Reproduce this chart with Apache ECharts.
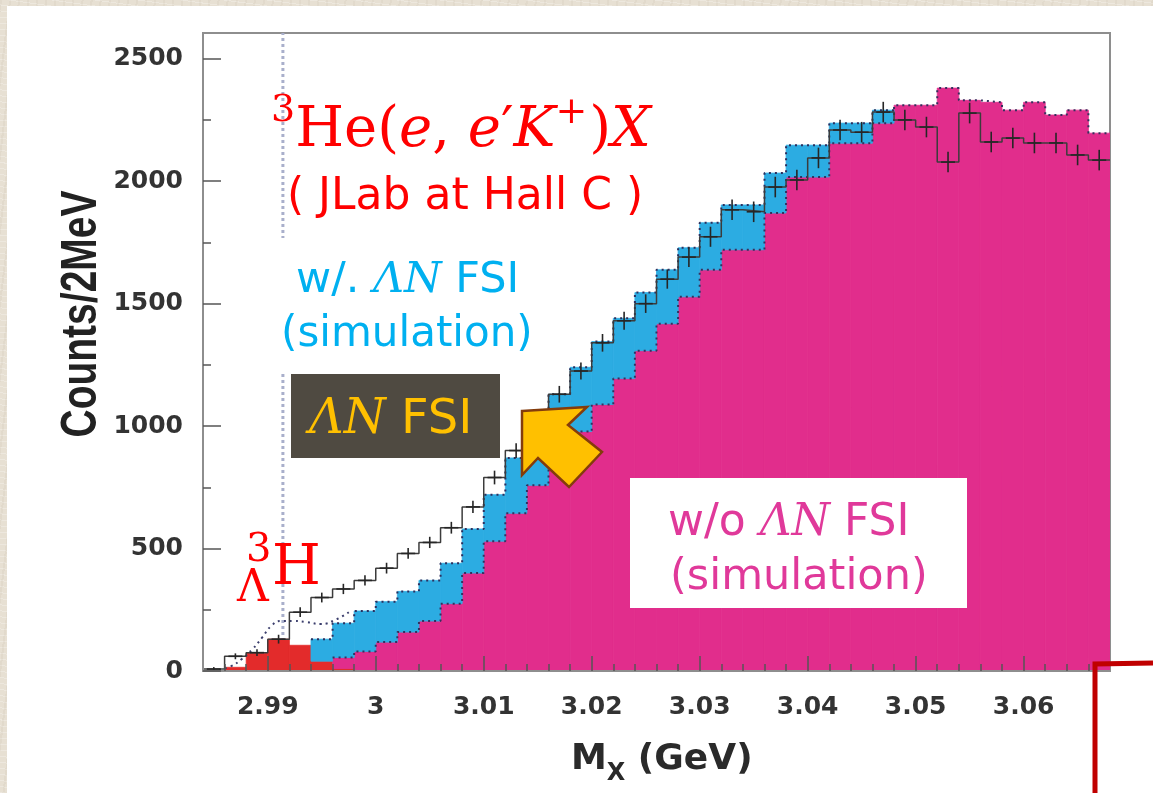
<!DOCTYPE html>
<html>
<head>
<meta charset="utf-8">
<title>3He(e,e'K+)X missing mass</title>
<script src="https://cdn.jsdelivr.net/npm/echarts@6.0.0/dist/echarts.min.js"></script>
<style>
  html, body { margin:0; padding:0; width:1153px; height:793px; overflow:hidden; }
  body {
    background-color:#e7e0d3;
    background-image:
      repeating-linear-gradient(97deg, rgba(120,100,70,0.05) 0 2px, transparent 2px 9px),
      repeating-linear-gradient(8deg, rgba(255,255,255,0.25) 0 1px, transparent 1px 6px);
  }
  #sheet { position:absolute; left:7px; top:6px; width:1146px; height:787px; background:#fff; }
  #chart { position:absolute; left:0; top:0; width:1153px; height:793px; }
</style>
</head>
<body>
<div id="sheet"></div>
<div id="chart"></div>
<script>
// Missing-mass spectrum, 2 MeV bins starting at 2.984 GeV
const BIN_START = 2.984;
const BIN_WIDTH = 0.002;

// simulated hypertriton peak (red)
const hypertritonSim = [0,15,75,130,105,40,10,
  0,0,0,0,0,0,0,0,0,0,0,0,0,0,0,0,0,0,0,0,0,0,0,0,0,0,0,0,0,0,0,0,0,0,0];

// quasi-free simulation without Lambda-N FSI (magenta)
const withoutFSI = [0,0,0,0,0,0,45,80,118,159,
  204,275,400,530,644,758,868,978,1088,1194,
  1308,1418,1528,1638,1720,1720,1870,2017,2017,2155,
  2155,2237,2310,2310,2380,2330,2322,2290,2322,2270,
  2290,2196];

// total of the simulation with Lambda-N FSI (top of the cyan band)
const withFSI = [0,0,0,0,0,130,195,245,283,325,
  370,440,580,720,870,1010,1130,1240,1345,1440,
  1545,1638,1728,1830,1903,1903,2033,2147,2147,2237,
  2237,2290,0,0,0,0,0,0,0,0,
  0,0];

// measured counts and their error bars
const dataCounts = [8,60,75,130,240,300,335,370,420,480,
  525,585,670,790,900,1010,1130,1225,1340,1430,
  1500,1600,1690,1773,1883,1875,1976,2005,2095,2209,
  2200,2282,2250,2221,2078,2278,2160,2176,2156,2156,
  2107,2086];
const dataErrors = [8,12,14,18,20,20,21,21,22,22,
  23,24,25,28,30,32,34,35,36,37,
  38,39,40,41,42,42,42,42,42,42,
  42,42,42,42,42,42,42,42,42,42,
  42,42];

// fitted total near the hypertriton threshold (dotted curve)
const fitX = [2.9855,2.9866,2.9876,2.9886,2.9895,2.9903,2.9912,2.9924,2.9936,2.9949,2.9964,2.9975];
const fitY = [5,20,49,90,138,183,204,204,200,192,212,240];

// hypertriton mass marker (GeV)
const hypertritonMass = 2.9914;

// axis ticks
const xTickValues = [2.99,3.00,3.01,3.02,3.03,3.04,3.05,3.06];
const xTickLabels = ['2.99','3','3.01','3.02','3.03','3.04','3.05','3.06'];
const yTickValues = [0,500,1000,1500,2000,2500];
const yTickLabels = ['0','500','1000','1500','2000','2500'];
const Y_MAX = 2605;

const nBins = dataCounts.length;
const edge = k => +(BIN_START + k * BIN_WIDTH).toFixed(4);
const X_MIN = BIN_START, X_MAX = edge(nBins);

const xMinor = [];
for (let k = 1; k < nBins; k++) {
  const v = edge(k);
  if (!xTickValues.some(t => Math.abs(t - v) < 1e-6)) xMinor.push(v);
}
const yMinor = [];
for (let v = 250; v < Y_MAX; v += 500) yMinor.push(v);

// stacked layers: red at the bottom, magenta above, cyan excess on top
const redRects = [], magRects = [], cyanRects = [];
for (let k = 0; k < nBins; k++) {
  const r = hypertritonSim[k], m = withoutFSI[k], t = withFSI[k];
  if (r > 0) redRects.push([edge(k), edge(k + 1), 0, r]);
  if (m > 0) magRects.push([edge(k), edge(k + 1), r, r + m]);
  if (t > r + m) cyanRects.push([edge(k), edge(k + 1), r + m, t]);
}

function stepPoints(vals, from, to) {
  const pts = [];
  for (let k = from; k <= to; k++) pts.push([edge(k), vals[k]]);
  pts.push([edge(to + 1), vals[to]]);
  return pts;
}
const magTop = hypertritonSim.map((r, k) => r + withoutFSI[k]);

function rectRenderer(color) {
  return function (params, api) {
    const a = api.coord([api.value(0), api.value(2)]);
    const b = api.coord([api.value(1), api.value(3)]);
    return {
      type: 'rect',
      shape: { x: a[0], y: b[1], width: b[0] - a[0], height: a[1] - b[1] },
      style: { fill: color, stroke: color, lineWidth: 0.8 }
    };
  };
}
function histLayer(rects, color, z) {
  return {
    type: 'custom', xAxisIndex: 0, yAxisIndex: 0, z: z, clip: true,
    renderItem: rectRenderer(color),
    encode: { x: [0, 1], y: [2, 3] },
    data: rects, silent: true
  };
}

const crossData = dataCounts.map((v, k) => [+(edge(k) + BIN_WIDTH / 2).toFixed(4), v, dataErrors[k]]);

const TICK_FONT = { fontFamily: 'DejaVu Sans', fontWeight: 'bold', fontSize: 25, color: '#333' };
const AXIS_GRAY = '#8e8e8e';
const TICK_COLOR = '#555';

// text layout helper: consecutive runs with mixed fonts
const measureCtx = document.createElement('canvas').getContext('2d');
function textRun(x, yMid, parts, baseColor) {
  const out = [];
  let cx = x;
  parts.forEach(p => {
    measureCtx.font = p.font;
    const w = measureCtx.measureText(p.t).width;
    out.push({
      type: 'text', x: cx + (p.dx || 0), y: yMid + (p.dy || 0), z: 100, silent: true,
      style: { text: p.t, font: p.font, fill: p.color || baseColor,
               align: 'left', verticalAlign: 'middle', textAlign: 'left', textVerticalAlign: 'middle' }
    });
    cx += w + (p.dx || 0);
  });
  return out;
}
function centeredText(x, y, text, font, color) {
  return { type: 'text', x: x, y: y, z: 100, silent: true,
    style: { text: text, font: font, fill: color, align: 'center', verticalAlign: 'middle',
             textAlign: 'center', textVerticalAlign: 'middle' } };
}

const SERIF = s => s + 'px "DejaVu Serif"';
const SERIF_I = s => 'italic ' + s + 'px "DejaVu Serif"';
const SANS = s => s + 'px "DejaVu Sans"';
const RED = '#ff0000', CYAN = '#00b0f0', PINK = '#e0399a', GOLD = '#ffc000';

const graphics = [
  // reaction label
  ...textRun(271, 131, [
    { t: '3', font: SERIF(38), dy: -20 },
    { t: 'He(', font: SERIF(56) },
    { t: 'e', font: SERIF_I(56) },
    { t: ', ', font: SERIF(56) },
    { t: 'e', font: SERIF_I(56) },
    { t: '\u2032', font: SERIF(56) },
    { t: 'K', font: SERIF_I(56) },
    { t: '+', font: SERIF(38), dy: -18 },
    { t: ')', font: SERIF(56), dx: 2 },
    { t: 'X', font: SERIF_I(56) }
  ], RED),
  centeredText(465, 198, '( JLab at Hall C )', SANS(44), RED),

  // simulation with FSI
  { type: 'rect', z: 90, silent: true, shape: { x: 274, y: 238, width: 266, height: 134 }, style: { fill: '#fff' } },
  ...textRun(296, 281, [
    { t: 'w/. ', font: SANS(43) },
    { t: '\u039BN', font: SERIF_I(43) },
    { t: ' FSI', font: SANS(43) }
  ], CYAN),
  ...textRun(281, 335, [{ t: '(simulation)', font: SANS(42) }], CYAN),

  // FSI tag with arrow
  { type: 'rect', z: 95, silent: true, shape: { x: 291, y: 374, width: 209, height: 84 }, style: { fill: '#4f4a41' } },
  ...textRun(309, 421, [
    { t: '\u039BN', font: SERIF_I(48) },
    { t: ' FSI', font: SANS(48) }
  ], GOLD),
  { type: 'polygon', z: 100, silent: true,
    shape: { points: [[522, 411], [587, 407], [568, 425], [602, 452], [569, 487], [538, 458], [522, 475]] },
    style: { fill: GOLD, stroke: '#843c0c', lineWidth: 2.5, lineJoin: 'miter' } },

  // simulation without FSI
  { type: 'rect', z: 95, silent: true, shape: { x: 630, y: 478, width: 337, height: 130 }, style: { fill: '#fff' } },
  ...textRun(668, 524, [
    { t: 'w/o ', font: SANS(44) },
    { t: '\u039BN', font: SERIF_I(44) },
    { t: ' FSI', font: SANS(44) }
  ], PINK),
  ...textRun(670, 578, [{ t: '(simulation)', font: SANS(43) }], PINK),

  // hypertriton label
  ...textRun(246, 551, [{ t: '3', font: SERIF(40) }], RED),
  ...textRun(237, 590, [{ t: '\u039B', font: SERIF(44) }], RED),
  ...textRun(272, 569, [{ t: 'H', font: SERIF(56) }], RED),

  // axis titles
  ...textRun(571, 760, [
    { t: 'M', font: 'bold 36px "DejaVu Sans"' },
    { t: 'X', font: 'bold 24px "DejaVu Sans"', dy: 14 },
    { t: ' (GeV)', font: 'bold 36px "DejaVu Sans"' }
  ], '#2a2a2a'),
  { type: 'text', x: 82, y: 314, rotation: Math.PI / 2, scaleX: 1, scaleY: 1.27, z: 100, silent: true,
    style: { text: 'Counts/2MeV', font: 'bold 39px "Liberation Sans"', fill: '#222',
             align: 'center', verticalAlign: 'middle', textAlign: 'center', textVerticalAlign: 'middle' } },

  // corner bracket
  { type: 'polyline', z: 100, silent: true,
    shape: { points: [[1095, 793], [1095, 664], [1153, 663]] },
    style: { stroke: '#c00000', lineWidth: 5, fill: null } }
];

const chart = echarts.init(document.getElementById('chart'), null, { renderer: 'canvas' });
chart.setOption({
  animation: false,
  backgroundColor: 'transparent',
  grid: { left: 203, right: 43, top: 33, bottom: 122, show: true, borderColor: AXIS_GRAY, borderWidth: 2,
          backgroundColor: '#fff', containLabel: false, outerBoundsMode: 'none' },
  xAxis: [
    { type: 'value', min: X_MIN, max: X_MAX, position: 'bottom', z: 6,
      axisLine: { show: true, onZero: false, lineStyle: { color: AXIS_GRAY, width: 2 } },
      axisTick: { show: true, inside: true, length: 15, customValues: xTickValues, lineStyle: { color: TICK_COLOR, width: 1.5 } },
      axisLabel: Object.assign({ show: true, customValues: xTickValues, margin: 24,
        formatter: v => { const i = xTickValues.findIndex(t => Math.abs(t - v) < 1e-6); return i >= 0 ? xTickLabels[i] : ''; } }, TICK_FONT),
      splitLine: { show: false } },
    { type: 'value', min: X_MIN, max: X_MAX, position: 'bottom', z: 6,
      axisLine: { show: false }, axisLabel: { show: false }, splitLine: { show: false },
      axisTick: { show: true, inside: true, length: 7, customValues: xMinor, lineStyle: { color: TICK_COLOR, width: 1.5 } } }
  ],
  yAxis: [
    { type: 'value', min: 0, max: Y_MAX, position: 'left', z: 6,
      axisLine: { show: true, onZero: false, lineStyle: { color: AXIS_GRAY, width: 2 } },
      axisTick: { show: true, inside: true, length: 18, customValues: yTickValues, lineStyle: { color: TICK_COLOR, width: 1.5 } },
      axisLabel: Object.assign({ show: true, customValues: yTickValues, margin: 20,
        formatter: v => { const i = yTickValues.indexOf(Math.round(v)); return i >= 0 ? yTickLabels[i] : ''; } }, TICK_FONT),
      splitLine: { show: false } },
    { type: 'value', min: 0, max: Y_MAX, position: 'left', z: 6,
      axisLine: { show: false }, axisLabel: { show: false }, splitLine: { show: false },
      axisTick: { show: true, inside: true, length: 8, customValues: yMinor, lineStyle: { color: TICK_COLOR, width: 1.5 } } }
  ],
  series: [
    { type: 'line', xAxisIndex: 0, yAxisIndex: 0, z: 1, symbol: 'none', silent: true,
      data: [[hypertritonMass, 0], [hypertritonMass, Y_MAX]],
      lineStyle: { color: '#a9afcb', width: 3, type: [3, 3] } },
    histLayer(redRects, '#e32b2b', 2),
    histLayer(magRects, '#e12d8c', 2),
    histLayer(cyanRects, '#2cace2', 2),
    { type: 'line', xAxisIndex: 0, yAxisIndex: 0, z: 3, step: 'end', symbol: 'none', silent: true,
      data: stepPoints(magTop, 6, nBins - 1),
      lineStyle: { color: '#35305e', width: 2, type: [2, 4] } },
    { type: 'line', xAxisIndex: 0, yAxisIndex: 0, z: 3, step: 'end', symbol: 'none', silent: true,
      data: stepPoints(withFSI, 5, 31),
      lineStyle: { color: '#2c2f5e', width: 2, type: [2, 4] } },
    { type: 'line', xAxisIndex: 0, yAxisIndex: 0, z: 3, smooth: true, symbol: 'none', silent: true,
      data: fitX.map((x, i) => [x, fitY[i]]),
      lineStyle: { color: '#3a3d6c', width: 2, type: [2, 4] } },
    { type: 'line', xAxisIndex: 0, yAxisIndex: 0, z: 4, step: 'end', symbol: 'none', silent: true,
      data: stepPoints(dataCounts, 0, nBins - 1),
      lineStyle: { color: '#3c3c3c', width: 1.5 } },
    { type: 'custom', xAxisIndex: 0, yAxisIndex: 0, z: 5, clip: true, silent: true,
      encode: { x: 0, y: 1 }, data: crossData,
      renderItem: (params, api) => {
        const x = api.value(0), y = api.value(1), e = api.value(2);
        const c = api.coord([x, y]);
        const top = api.coord([x, y + e]);
        const bot = api.coord([x, Math.max(0, y - e)]);
        const st = { stroke: '#262626', lineWidth: 1.6 };
        return { type: 'group', children: [
          { type: 'line', shape: { x1: c[0] - 7, y1: c[1], x2: c[0] + 7, y2: c[1] }, style: st },
          { type: 'line', shape: { x1: c[0], y1: top[1], x2: c[0], y2: bot[1] }, style: st }
        ] };
      } }
  ],
  graphic: { elements: graphics }
});
</script>
</body>
</html>
